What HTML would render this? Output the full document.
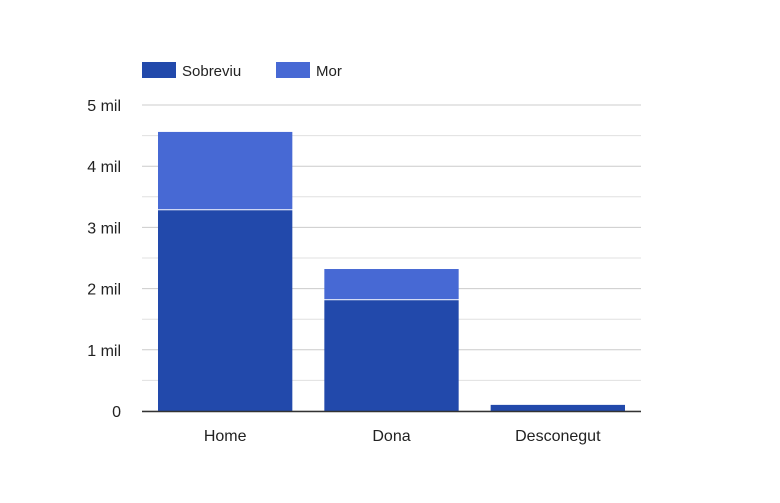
<!DOCTYPE html>
<html><head><meta charset="utf-8"><style>
body{margin:0;background:#fff;font-family:"Liberation Sans",Roboto,sans-serif}
</style></head><body>
<svg id="chart" width="780" height="498" xmlns="http://www.w3.org/2000/svg" font-family="Liberation Sans, sans-serif">
<g>
<rect x="142" y="62" width="34" height="16" fill="#2249ab"/>
<text x="182" y="76" font-size="15" fill="#222">Sobreviu</text>
<rect x="276" y="62" width="34" height="16" fill="#4769d4"/>
<text x="316" y="76" font-size="15" fill="#222">Mor</text>
</g>
<g id="grid"></g><g id="bars"></g><g id="labels"></g>
</svg>
<script>
const categories=["Home","Dona","Desconegut"];
const sobreviu=[3280,1810,100];
const mor=[1280,510,5];
const yTicks=[0,1000,2000,3000,4000,5000];
const yTickLabels=["0","1 mil","2 mil","3 mil","4 mil","5 mil"];
const NS="http://www.w3.org/2000/svg";
const x0=142,x1=641,yBase=411,yTop=105,yMax=5000;
const y=v=>yBase-(v/yMax)*(yBase-yTop);
const band=(x1-x0)/categories.length;
function mk(t,a,p){const e=document.createElementNS(NS,t);for(const k in a)e.setAttribute(k,a[k]);p.appendChild(e);return e;}
const grid=document.getElementById('grid'),bars=document.getElementById('bars'),labels=document.getElementById('labels');
for(let v=0;v<=yMax;v+=500){const l=mk('line',{x1:x0,x2:x1,y1:y(v),y2:y(v),stroke:v%1000?'#e0e0e0':'#cccccc','stroke-width':1},grid);

}
yTicks.forEach((v,i)=>{const t=mk('text',{x:121,y:y(v)+6,'font-size':16,fill:'#222','text-anchor':'end'},labels);t.textContent=yTickLabels[i];

});
categories.forEach((c,i)=>{const bx=x0+band*i+16,bw=band-32;
const r1=mk('rect',{x:bx,y:y(sobreviu[i]),width:bw,height:yBase-y(sobreviu[i]),fill:'#2249ab'},bars);


const top=y(sobreviu[i]+mor[i]);
const r2=mk('rect',{x:bx,y:top,width:bw,height:y(sobreviu[i])-top-1,fill:'#4769d4'},bars);


const t=mk('text',{x:bx+bw/2,y:441,'font-size':16,fill:'#222','text-anchor':'middle'},labels);t.textContent=c;

});
const ax=mk('line',{x1:x0,x2:x1,y1:yBase+0.5,y2:yBase+0.5,stroke:'#333','stroke-width':1.5},labels);


</script>
</body></html>
